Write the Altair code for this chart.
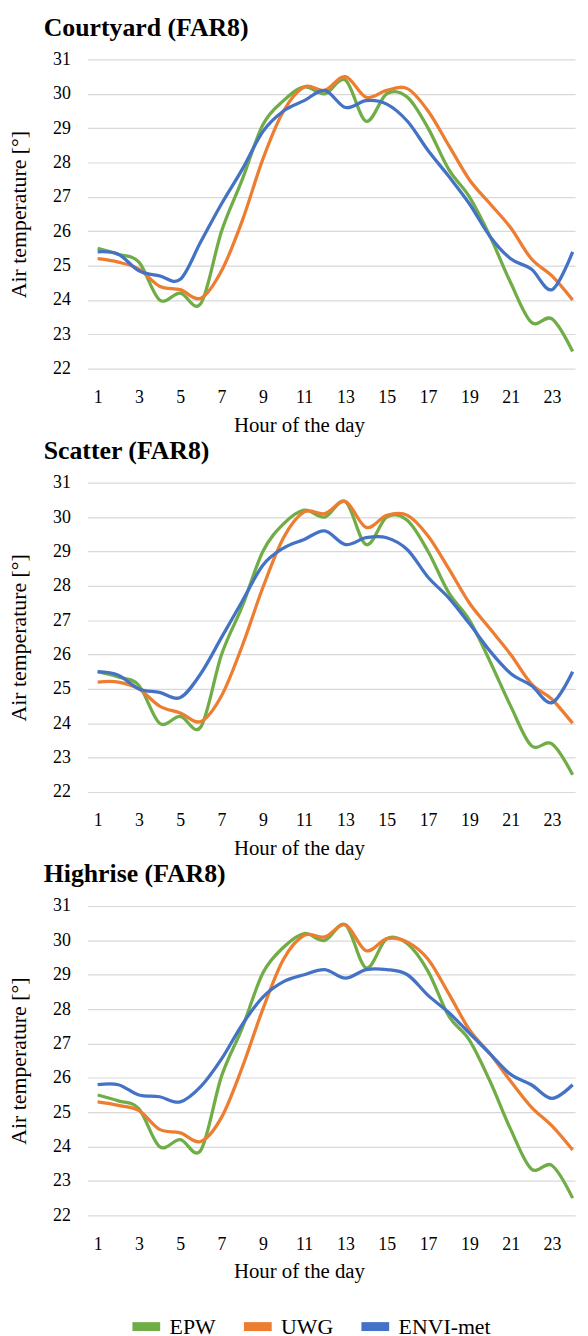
import altair as alt
import pandas as pd

hours = list(range(1, 25))
series_names = ["EPW", "UWG", "ENVI-met"]
series_colors = ["#70AD47", "#ED7D31", "#4472C4"]
x_tick_values = [1, 3, 5, 7, 9, 11, 13, 15, 17, 19, 21, 23]
y_tick_values = [22, 23, 24, 25, 26, 27, 28, 29, 30, 31]
panel_titles = ["Courtyard (FAR8)", "Scatter (FAR8)", "Highrise (FAR8)"]

# Courtyard (FAR8)
epw_courtyard = [25.5, 25.33, 25.1, 24.0, 24.2, 23.9, 26.0, 27.5, 29.1, 29.8, 30.2, 30.0,
                 30.4, 29.2, 30.0, 29.9, 29.0, 27.8, 27.0, 25.85, 24.5, 23.35, 23.45, 22.5]
uwg_courtyard = [25.2, 25.1, 24.9, 24.4, 24.3, 24.05, 24.85, 26.3, 28.1, 29.5, 30.2, 30.1,
                 30.5, 29.9, 30.1, 30.15, 29.5, 28.5, 27.5, 26.8, 26.1, 25.2, 24.7, 24.0]
envi_courtyard = [25.4, 25.33, 24.85, 24.7, 24.6, 25.7, 26.8, 27.8, 28.9, 29.5, 29.8, 30.1,
                  29.6, 29.8, 29.7, 29.2, 28.35, 27.6, 26.8, 25.85, 25.2, 24.9, 24.3, 25.4]

# Scatter (FAR8)
epw_scatter = [25.5, 25.35, 25.1, 24.0, 24.2, 23.9, 26.0, 27.4, 29.0, 29.8, 30.2, 30.0,
               30.45, 29.2, 30.0, 29.9, 29.0, 27.8, 27.0, 25.8, 24.5, 23.35, 23.4, 22.5]
uwg_scatter = [25.2, 25.2, 25.0, 24.5, 24.3, 24.05, 24.8, 26.25, 27.95, 29.4, 30.15, 30.1,
               30.45, 29.7, 30.05, 30.05, 29.45, 28.5, 27.5, 26.75, 26.0, 25.15, 24.7, 24.0]
envi_scatter = [25.5, 25.4, 25.0, 24.9, 24.75, 25.45, 26.5, 27.55, 28.6, 29.1, 29.35, 29.6,
                29.2, 29.4, 29.4, 29.05, 28.25, 27.65, 26.9, 26.1, 25.45, 25.1, 24.6, 25.5]

# Highrise (FAR8)
epw_highrise = [25.5, 25.33, 25.1, 24.0, 24.2, 23.9, 26.05, 27.45, 29.05, 29.8, 30.2, 30.0,
                30.45, 29.2, 30.05, 29.9, 29.1, 27.8, 27.1, 25.9, 24.5, 23.35, 23.45, 22.5]
uwg_highrise = [25.3, 25.2, 25.05, 24.5, 24.4, 24.15, 24.85, 26.3, 28.0, 29.45, 30.15, 30.1,
                30.45, 29.7, 30.05, 29.95, 29.45, 28.45, 27.4, 26.7, 25.9, 25.15, 24.6, 23.9]
envi_highrise = [25.8, 25.8, 25.5, 25.45, 25.3, 25.75, 26.55, 27.55, 28.35, 28.8, 29.0, 29.15,
                 28.9, 29.15, 29.15, 29.0, 28.4, 27.9, 27.3, 26.7, 26.1, 25.8, 25.4, 25.8]

FONT = "Liberation Serif"


def make_panel(title, epw, uwg, envi):
    df = pd.DataFrame({
        "hour": hours * 3,
        "temp": epw + uwg + envi,
        "series": [series_names[0]] * 24 + [series_names[1]] * 24 + [series_names[2]] * 24,
    })
    legend = alt.Legend(
        title=None, orient="none", direction="horizontal",
        legendX=41, legendY=1259.5,
        symbolType="stroke", symbolSize=784, symbolStrokeWidth=9,
        labelFont=FONT, labelFontSize=22, labelColor="#000000",
        labelOffset=5, columnPadding=9.5, padding=0,
    )
    return alt.Chart(
        df,
        title=alt.TitleParams(
            title, anchor="start", frame="group", dx=-44, offset=10,
            font=FONT, fontSize=26, fontWeight="bold", color="#000000",
        ),
    ).mark_line(interpolate="cardinal", strokeWidth=3.3).encode(
        x=alt.X(
            "hour:Q",
            scale=alt.Scale(domain=[0.5, 24.116], nice=False, zero=False),
            axis=alt.Axis(
                values=x_tick_values, title="Hour of the day", grid=False, ticks=False,
                domain=False, labelPadding=20, titlePadding=8, titleX=213.5,
            ),
        ),
        y=alt.Y(
            "temp:Q",
            scale=alt.Scale(domain=[22, 31], nice=False, zero=False),
            axis=alt.Axis(
                values=y_tick_values, title="Air temperature [°]", ticks=False, domain=False,
                labelPadding=17, gridColor="#D9D9D9", gridWidth=1.2,
                titleX=-62, titleBaseline="alphabetic", titleFontSize=22,
            ),
        ),
        color=alt.Color("series:N", sort=series_names,
                        scale=alt.Scale(domain=series_names, range=series_colors),
                        legend=legend),
    ).properties(width=492, height=312)


p1 = make_panel(panel_titles[0], epw_courtyard, uwg_courtyard, envi_courtyard)
p2 = make_panel(panel_titles[1], epw_scatter, uwg_scatter, envi_scatter)
p3 = make_panel(panel_titles[2], epw_highrise, uwg_highrise, envi_highrise)

chart = alt.vconcat(p1, p2, p3, spacing=3).properties(
    padding={"left": 0, "top": 1, "right": 0, "bottom": 0}
).configure_view(strokeWidth=0).configure_axis(
    labelFont=FONT, labelFontSize=18, labelColor="#000000",
    titleFont=FONT, titleFontSize=21, titleFontWeight="normal", titleColor="#000000",
)

chart.save("out.html", embed_options={"renderer": "svg", "actions": False})
